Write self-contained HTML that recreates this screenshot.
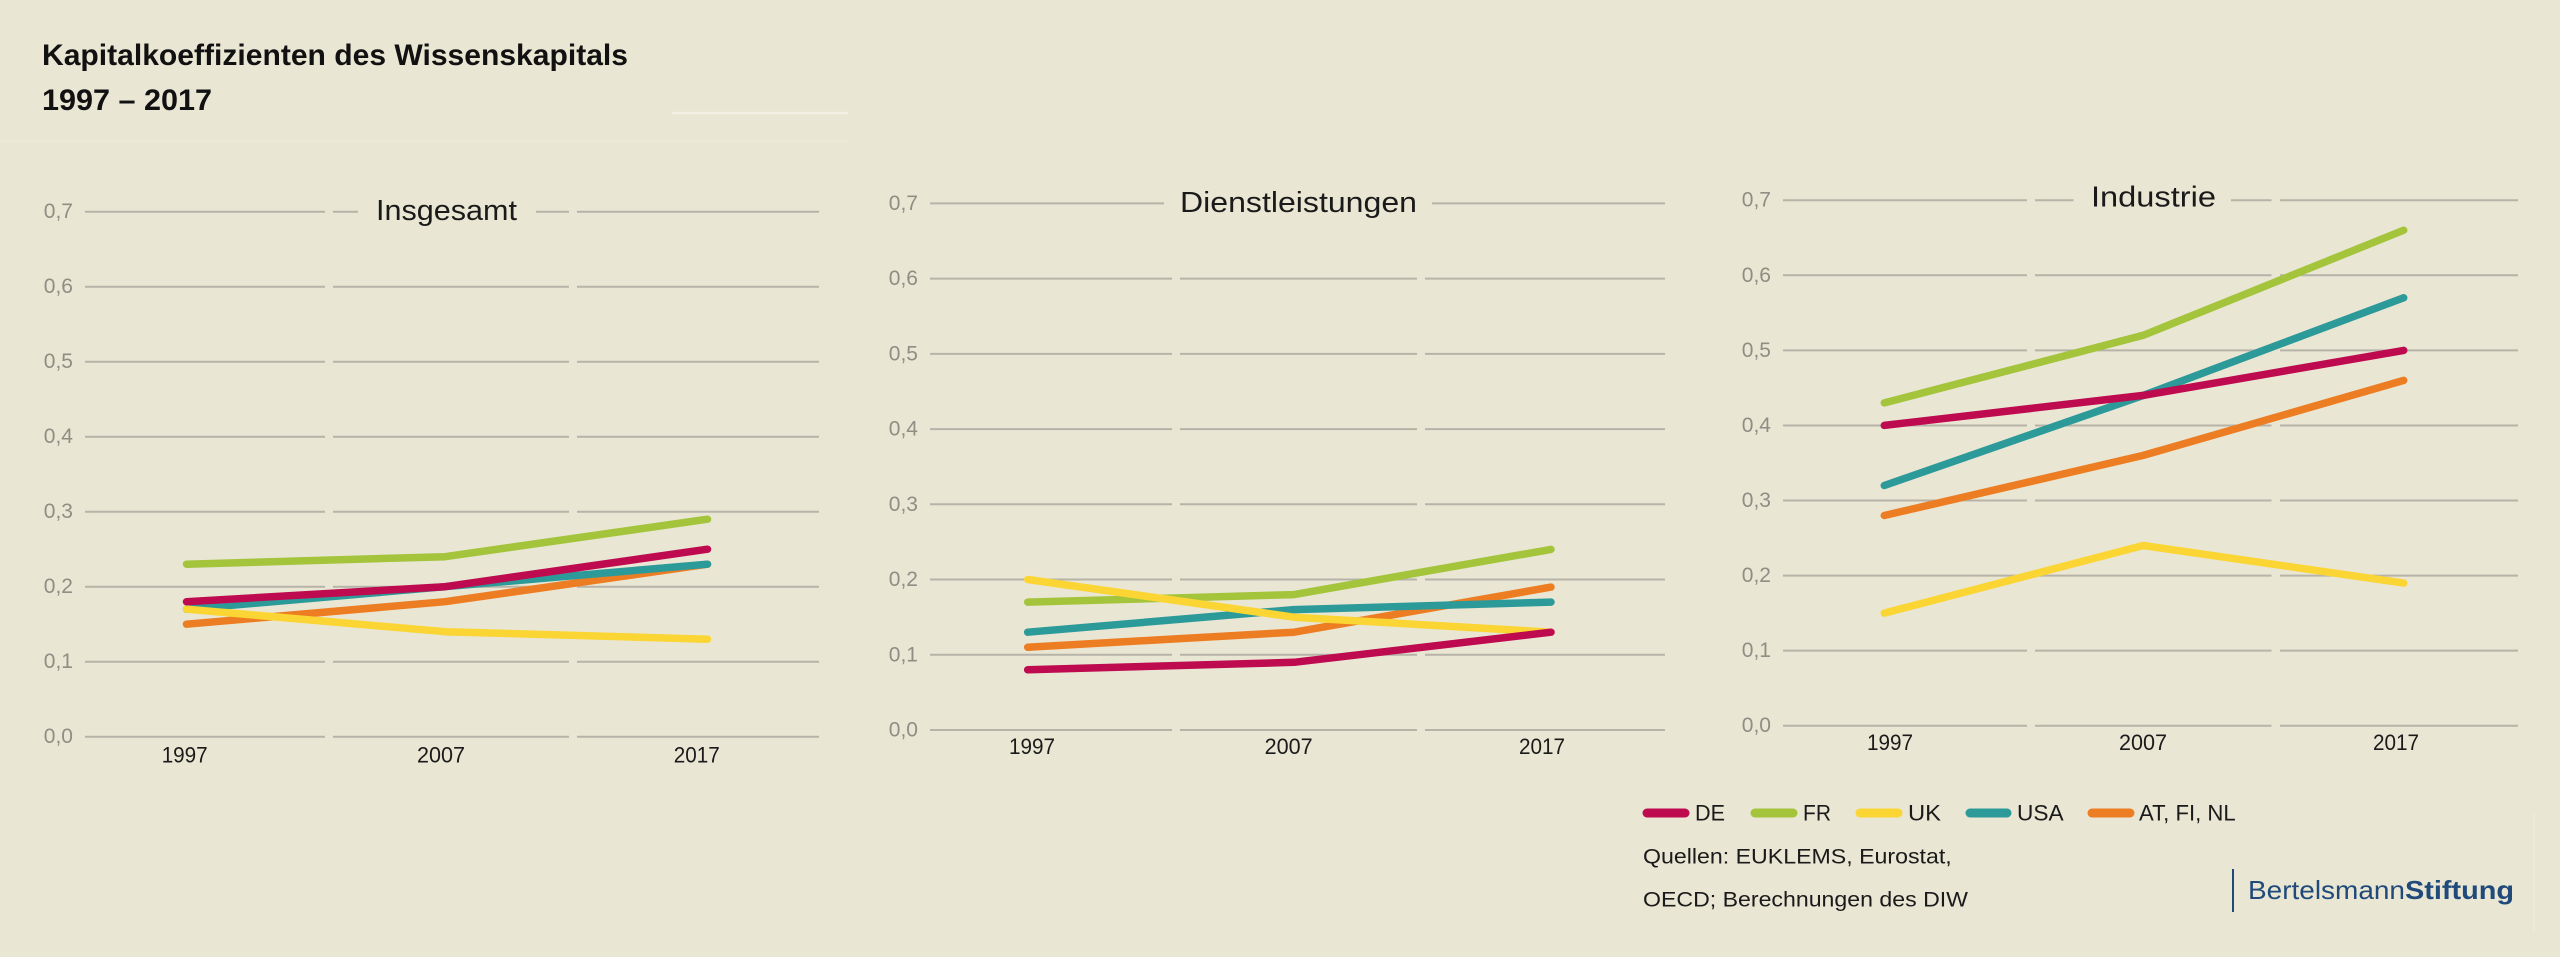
<!DOCTYPE html>
<html><head><meta charset="utf-8"><style>
html,body{margin:0;padding:0;background:#EAE6D4;}
svg{display:block;}
text{font-family:"Liberation Sans",sans-serif;}
</style></head><body>
<svg width="2560" height="957" viewBox="0 0 2560 957" xmlns="http://www.w3.org/2000/svg">
<rect width="2560" height="957" fill="#EAE6D4"/>
<line x1="672" y1="113" x2="848" y2="113" stroke="#F4F0E4" stroke-width="2.5"/>
<line x1="0" y1="141" x2="848" y2="141" stroke="#EEEADA" stroke-width="1.5"/>

<text x="42" y="65" font-size="30" font-weight="bold" fill="#111" textLength="586" lengthAdjust="spacingAndGlyphs">Kapitalkoeffizienten des Wissenskapitals</text>
<text x="42" y="110" font-size="30" font-weight="bold" fill="#111" textLength="170" lengthAdjust="spacingAndGlyphs">1997 – 2017</text>

<g stroke="#B6B4A8" stroke-width="2">
<!-- Panel 1 -->
<path d="M85 736.7H325M333 736.7H569M577 736.7H819
M85 661.7H325M333 661.7H569M577 661.7H819
M85 586.7H325M333 586.7H569M577 586.7H819
M85 511.7H325M333 511.7H569M577 511.7H819
M85 436.7H325M333 436.7H569M577 436.7H819
M85 361.7H325M333 361.7H569M577 361.7H819
M85 286.7H325M333 286.7H569M577 286.7H819
M85 211.7H325M333 211.7H358M536 211.7H569M577 211.7H819"/>
<!-- Panel 2 -->
<path d="M930 730H1172M1180 730H1417M1425 730H1665
M930 654.8H1172M1180 654.8H1417M1425 654.8H1665
M930 579.5H1172M1180 579.5H1417M1425 579.5H1665
M930 504.3H1172M1180 504.3H1417M1425 504.3H1665
M930 429.1H1172M1180 429.1H1417M1425 429.1H1665
M930 353.9H1172M1180 353.9H1417M1425 353.9H1665
M930 278.6H1172M1180 278.6H1417M1425 278.6H1665
M930 203.4H1164M1432 203.4H1665"/>
<!-- Panel 3 -->
<path d="M1783 725.7H2027M2035 725.7H2271.5M2280 725.7H2518
M1783 650.6H2027M2035 650.6H2271.5M2280 650.6H2518
M1783 575.6H2027M2035 575.6H2271.5M2280 575.6H2518
M1783 500.5H2027M2035 500.5H2271.5M2280 500.5H2518
M1783 425.5H2027M2035 425.5H2271.5M2280 425.5H2518
M1783 350.4H2027M2035 350.4H2271.5M2280 350.4H2518
M1783 275.3H2027M2035 275.3H2271.5M2280 275.3H2518
M1783 200.2H2027M2035 200.2H2073.5M2231 200.2H2271.5M2280 200.2H2518"/>
</g>

<g font-size="21" fill="#8F8D84" text-anchor="end">
<text x="73" y="743.2">0,0</text><text x="73" y="668.2">0,1</text><text x="73" y="593.2">0,2</text><text x="73" y="518.2">0,3</text><text x="73" y="443.2">0,4</text><text x="73" y="368.2">0,5</text><text x="73" y="293.2">0,6</text><text x="73" y="218.2">0,7</text>
<text x="918" y="736.5">0,0</text><text x="918" y="661.3">0,1</text><text x="918" y="586">0,2</text><text x="918" y="510.8">0,3</text><text x="918" y="435.6">0,4</text><text x="918" y="360.4">0,5</text><text x="918" y="285.1">0,6</text><text x="918" y="209.9">0,7</text>
<text x="1771" y="732.2">0,0</text><text x="1771" y="657.1">0,1</text><text x="1771" y="582.1">0,2</text><text x="1771" y="507">0,3</text><text x="1771" y="432">0,4</text><text x="1771" y="356.9">0,5</text><text x="1771" y="281.8">0,6</text><text x="1771" y="206.7">0,7</text>
</g>

<g font-size="22.5" fill="#1a1a1a" text-anchor="middle">
<text x="184.7" y="762.3" textLength="46" lengthAdjust="spacingAndGlyphs">1997</text>
<text x="441" y="762.3" textLength="48" lengthAdjust="spacingAndGlyphs">2007</text>
<text x="696.8" y="762.3" textLength="46" lengthAdjust="spacingAndGlyphs">2017</text>
<text x="1032" y="754" textLength="46" lengthAdjust="spacingAndGlyphs">1997</text>
<text x="1288.6" y="754" textLength="48" lengthAdjust="spacingAndGlyphs">2007</text>
<text x="1542" y="754" textLength="46" lengthAdjust="spacingAndGlyphs">2017</text>
<text x="1890" y="750" textLength="46" lengthAdjust="spacingAndGlyphs">1997</text>
<text x="2143" y="750" textLength="48" lengthAdjust="spacingAndGlyphs">2007</text>
<text x="2396" y="750" textLength="46" lengthAdjust="spacingAndGlyphs">2017</text>
</g>

<g font-size="29" fill="#1a1a1a">
<text x="376" y="220" textLength="141" lengthAdjust="spacingAndGlyphs">Insgesamt</text>
<text x="1180" y="212" textLength="237" lengthAdjust="spacingAndGlyphs">Dienstleistungen</text>
<text x="2091" y="206.5" textLength="125" lengthAdjust="spacingAndGlyphs">Industrie</text>
</g>

<g fill="none" stroke-width="7.5" stroke-linecap="round" stroke-linejoin="round">
<!-- Panel 1 -->
<polyline stroke="#EC7D22" points="186.5,624.2 445,601.7 707.5,564.2"/>
<polyline stroke="#2C9A99" points="186.5,609.2 445,586.7 707.5,564.2"/>
<polyline stroke="#FAD533" points="186.5,609.2 445,631.7 707.5,639.2"/>
<polyline stroke="#A3C43B" points="186.5,564.2 445,556.7 707.5,519.2"/>
<polyline stroke="#BE0A4F" points="186.5,601.7 445,586.7 707.5,549.2"/>
<!-- Panel 2 -->
<polyline stroke="#EC7D22" points="1027.7,647.2 1294,632.2 1551,587.1"/>
<polyline stroke="#2C9A99" points="1027.7,632.2 1294,609.6 1551,602.1"/>
<polyline stroke="#A3C43B" points="1027.7,602.1 1294,594.6 1551,549.4"/>
<polyline stroke="#FAD533" points="1027.7,579.5 1294,617.2 1551,632.2"/>
<polyline stroke="#BE0A4F" points="1027.7,669.8 1294,662.3 1551,632.2"/>
<!-- Panel 3 -->
<polyline stroke="#EC7D22" points="1884.3,515.5 2143.2,455.4 2403.7,380.4"/>
<polyline stroke="#2C9A99" points="1884.3,485.5 2143.2,395.4 2403.7,297.8"/>
<polyline stroke="#FAD533" points="1884.3,613.1 2143.2,545.5 2403.7,583.1"/>
<polyline stroke="#A3C43B" points="1884.3,402.9 2143.2,335.3 2403.7,230.2"/>
<polyline stroke="#BE0A4F" points="1884.3,425.4 2143.2,395.4 2403.7,350.4"/>
</g>

<!-- Legend -->
<g stroke-width="9" stroke-linecap="round">
<line x1="1647" y1="813" x2="1685" y2="813" stroke="#BE0A4F"/>
<line x1="1755" y1="813" x2="1793" y2="813" stroke="#A3C43B"/>
<line x1="1860" y1="813" x2="1898" y2="813" stroke="#FAD533"/>
<line x1="1970" y1="813" x2="2007" y2="813" stroke="#2C9A99"/>
<line x1="2092" y1="813" x2="2130" y2="813" stroke="#EC7D22"/>
</g>
<g font-size="22" fill="#1a1a1a">
<text x="1695" y="820.7" textLength="30" lengthAdjust="spacingAndGlyphs">DE</text>
<text x="1803" y="820.7" textLength="28" lengthAdjust="spacingAndGlyphs">FR</text>
<text x="1908" y="820.7" textLength="33" lengthAdjust="spacingAndGlyphs">UK</text>
<text x="2017" y="820.7" textLength="46.6" lengthAdjust="spacingAndGlyphs">USA</text>
<text x="2139" y="820.7" textLength="96.7" lengthAdjust="spacingAndGlyphs">AT, FI, NL</text>
</g>
<g font-size="21" fill="#1a1a1a">
<text x="1643" y="863.3" textLength="308.7" lengthAdjust="spacingAndGlyphs">Quellen: EUKLEMS, Eurostat,</text>
<text x="1643" y="906.7" textLength="325" lengthAdjust="spacingAndGlyphs">OECD; Berechnungen des DIW</text>
</g>
<line x1="2233" y1="869" x2="2233" y2="912" stroke="#1F4A7A" stroke-width="2"/>
<text x="2248" y="899" font-size="26" fill="#1F4A7A"><tspan textLength="157" lengthAdjust="spacingAndGlyphs">Bertelsmann</tspan><tspan font-weight="bold" textLength="109" lengthAdjust="spacingAndGlyphs">Stiftung</tspan></text>
<line x1="2534" y1="812" x2="2534" y2="933" stroke="#EEEADB" stroke-width="1.5"/>
</svg>
</body></html>
